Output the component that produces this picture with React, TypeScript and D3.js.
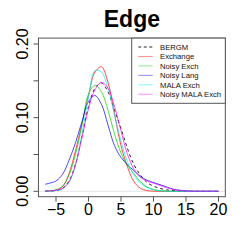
import React, { useEffect, useRef } from "react";
import * as d3 from "d3";

const xs = [-6.65, -6, -5, -4, -3, -2, -1, 0, 1, 2, 3, 4, 5, 6, 7, 8, 9, 10, 11, 12, 13, 14, 15, 16, 18, 20];

const bergm = [0.0002, 0.0004, 0.001, 0.004, 0.014, 0.037, 0.075, 0.115, 0.14, 0.147, 0.135, 0.11, 0.085, 0.058, 0.036, 0.022, 0.012, 0.007, 0.004, 0.002, 0.001, 0.0003, 0.0001, 0, 0, 0];
const exchange = [0.0002, 0.0005, 0.0015, 0.006, 0.024, 0.055, 0.092, 0.13, 0.162, 0.169, 0.148, 0.105, 0.062, 0.033, 0.013, 0.004, 0.001, 0.0002, 0, 0, 0, 0, 0, 0, 0, 0];
const noisyExch = [0.0003, 0.0007, 0.002, 0.007, 0.022, 0.05, 0.09, 0.132, 0.144, 0.135, 0.11, 0.078, 0.052, 0.035, 0.024, 0.013, 0.006, 0.0025, 0.001, 0.0003, 0.0001, 0, 0, 0, 0, 0];
const noisyLang = [0.0095, 0.011, 0.014, 0.023, 0.042, 0.066, 0.095, 0.122, 0.13, 0.118, 0.09, 0.062, 0.046, 0.036, 0.028, 0.02, 0.015, 0.012, 0.009, 0.006, 0.003, 0.0015, 0.0005, 0.0001, 0, 0];
const malaExch = [0.0001, 0.0003, 0.001, 0.003, 0.012, 0.035, 0.078, 0.128, 0.164, 0.162, 0.14, 0.104, 0.068, 0.04, 0.022, 0.011, 0.005, 0.002, 0.0007, 0.0002, 0, 0, 0, 0, 0, 0];
const noisyMalaExch = [0.0002, 0.0005, 0.0015, 0.004, 0.013, 0.036, 0.073, 0.112, 0.138, 0.148, 0.14, 0.115, 0.082, 0.05, 0.03, 0.019, 0.014, 0.011, 0.008, 0.005, 0.0025, 0.001, 0.0003, 0.0001, 0, 0];

const seriesNames = ["BERGM", "Exchange", "Noisy Exch", "Noisy Lang", "MALA Exch", "Noisy MALA Exch"];
const seriesValues = [bergm, exchange, noisyExch, noisyLang, malaExch, noisyMalaExch];
const seriesColors = ["#000000", "#ff0000", "#00cc00", "#0000ff", "#00eeee", "#ff00ff"];

const xTicks = [-5, 0, 5, 10, 15, 20];
const yTicks = [0, 0.05, 0.1, 0.15, 0.2];
const yLabels = [0, 0.1, 0.2];

export default function App() {
  const ref = useRef<SVGSVGElement>(null);

  useEffect(() => {
    const svg = d3.select(ref.current);
    svg.selectAll("*").remove();

    const x = d3.scaleLinear().domain([-5, 20]).range([56, 218.5]);
    const y = d3.scaleLinear().domain([0, 0.2]).range([191.3, 44]);
    const left = x(-7.7), right = x(21.05), top = y(0.208), bottom = y(-0.0073);
    const font = "'Liberation Sans', Arial, sans-serif";

    // zero line
    svg.append("line")
      .attr("x1", left).attr("x2", right)
      .attr("y1", y(0)).attr("y2", y(0))
      .attr("stroke", "#e4e4e4").attr("stroke-width", 1);

    const line = d3.line<number>()
      .x((d, i) => x(xs[i]))
      .y(d => y(d))
      .curve(d3.curveCatmullRom.alpha(0.5));

    seriesValues.forEach((vals, i) => {
      svg.append("path")
        .attr("d", line(vals))
        .attr("fill", "none")
        .attr("stroke", seriesColors[i])
        .attr("stroke-opacity", i === 0 ? 0.85 : 0.7)
        .attr("stroke-width", 1)
        .attr("stroke-dasharray", i === 0 ? "3,3" : null);
    });

    // plot box
    svg.append("rect")
      .attr("x", left).attr("y", top)
      .attr("width", right - left).attr("height", bottom - top)
      .attr("fill", "none").attr("stroke", "#555").attr("stroke-width", 1);

    // x axis
    const gx = svg.append("g");
    gx.selectAll("line").data(xTicks).join("line")
      .attr("x1", d => x(d)).attr("x2", d => x(d))
      .attr("y1", bottom).attr("y2", bottom + 5)
      .attr("stroke", "#555");
    gx.selectAll("text").data(xTicks).join("text")
      .attr("x", d => x(d)).attr("y", 215)
      .attr("text-anchor", "middle")
      .attr("font-family", font).attr("font-size", 16)
      .text(d => (d < 0 ? "\u2212" + Math.abs(d) : String(d)));

    // y axis
    const gy = svg.append("g");
    gy.selectAll("line").data(yTicks).join("line")
      .attr("x1", left - 5).attr("x2", left)
      .attr("y1", d => y(d)).attr("y2", d => y(d))
      .attr("stroke", "#555");
    gy.selectAll("text").data(yLabels).join("text")
      .attr("transform", d => `translate(28.3,${y(d)}) rotate(-90)`)
      .attr("text-anchor", "middle")
      .attr("font-family", font).attr("font-size", 16)
      .text(d => d.toFixed(2));

    // title
    svg.append("text")
      .attr("x", (left + right) / 2).attr("y", 27)
      .attr("text-anchor", "middle")
      .attr("font-family", font).attr("font-size", 23).attr("font-weight", "bold")
      .text("Edge");

    // legend
    const lg = svg.append("g");
    lg.append("rect")
      .attr("x", 131.7).attr("y", top)
      .attr("width", right - 131.7).attr("height", 103.3 - top)
      .attr("fill", "white").attr("stroke", "#555");
    seriesNames.forEach((name, i) => {
      const ly = 47 + i * 9.45;
      lg.append("line")
        .attr("x1", 138.3).attr("x2", 152.7)
        .attr("y1", ly).attr("y2", ly)
        .attr("stroke", seriesColors[i])
        .attr("stroke-opacity", i === 0 ? 0.85 : 0.45)
        .attr("stroke-dasharray", i === 0 ? "3,2.5" : null);
      lg.append("text")
        .attr("x", 160).attr("y", ly + 2.8)
        .attr("font-family", font).attr("font-size", 7.7)
        .attr("fill", "#111")
        .text(name);
    });
  }, []);

  return (
    <svg ref={ref} width={245} height={245}
      style={{ position: "absolute", left: 0, top: 0, background: "white" }} />
  );
}
